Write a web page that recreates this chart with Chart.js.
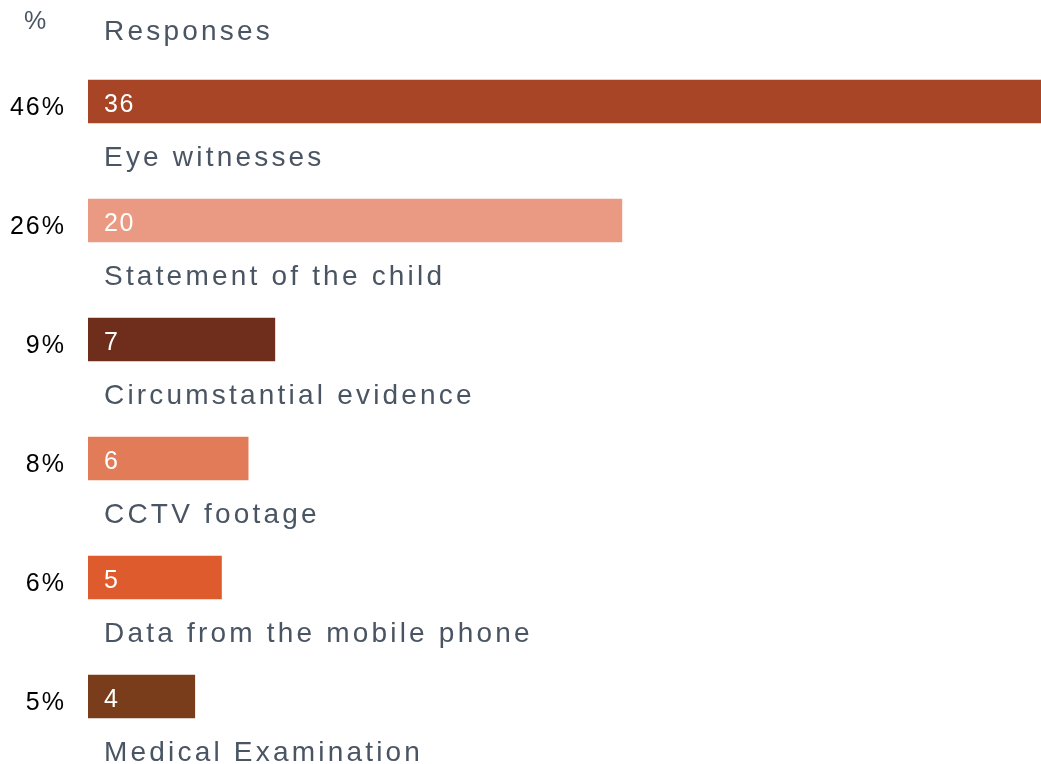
<!DOCTYPE html>
<html>
<head>
<meta charset="utf-8">
<script src="https://cdn.jsdelivr.net/npm/chart.js@4/dist/chart.umd.min.js"></script>
<style>
  html, body { margin: 0; padding: 0; background: #fff; overflow: hidden; }
  #wrap { width: 1041px; height: 764px; overflow: hidden; }
  #wrap div { width: 1050px; height: 764px; }
</style>
</head>
<body>
<div id="wrap"><div><canvas id="myChart"></canvas></div></div>
<script>
var categories = ['Eye witnesses', 'Statement of the child', 'Circumstantial evidence',
                  'CCTV footage', 'Data from the mobile phone', 'Medical Examination'];
var responses = [36, 20, 7, 6, 5, 4];
var percents = ['46%', '26%', '9%', '8%', '6%', '5%'];
var barColors = ['#A84526', '#EA9A82', '#6F2E1B', '#E27B58', '#DE5B2E', '#7A3D1C'];

var textGrey = '#4A5564';
var font = '"Liberation Sans", Arial, sans-serif';

// labels around each bar: % on the left, count inside, category below
var barLabels = {
    id: 'barLabels',
    afterDatasetsDraw: function (chart) {
        var ctx = chart.ctx;
        var meta = chart.getDatasetMeta(0);
        ctx.save();

        ctx.textBaseline = 'alphabetic';
        ctx.fillStyle = textGrey;
        ctx.font = '25px ' + font;
        ctx.textAlign = 'left';
        ctx.fillText('%', 24, 29);
        ctx.font = '28px ' + font;
        ctx.letterSpacing = '3.2px';
        ctx.fillText('Responses', 104, 40);

        meta.data.forEach(function (bar, i) {
            var half = bar.height / 2;
            ctx.letterSpacing = '2px';
            ctx.font = '25px ' + font;
            ctx.textAlign = 'right';
            ctx.fillStyle = '#000';
            ctx.fillText(percents[i], 66, bar.y + 13);

            ctx.letterSpacing = '1.5px';
            ctx.textAlign = 'left';
            ctx.fillStyle = '#fff';
            ctx.fillText(String(responses[i]), 104, bar.y + 10);

            ctx.letterSpacing = '3.2px';
            ctx.font = '28px ' + font;
            ctx.fillStyle = textGrey;
            ctx.fillText(categories[i], 104, bar.y + half + 43);
        });
        ctx.restore();
    }
};

var ctxChart = document.getElementById('myChart').getContext('2d');
var chart = new Chart(ctxChart, {
    type: 'bar',
    data: {
        labels: categories,
        datasets: [{
            label: 'Responses',
            data: responses,
            backgroundColor: barColors,
            borderWidth: 0,
            barThickness: 43
        }]
    },
    options: {
        indexAxis: 'y',
        responsive: true,
        maintainAspectRatio: false,
        animation: false,
        layout: { padding: { left: 88, right: 1, top: 42, bottom: 8 } },
        plugins: {
            legend: { display: false },
            tooltip: { enabled: false }
        },
        scales: {
            x: { display: false, min: 0, max: 36 },
            y: { display: false }
        }
    },
    plugins: [barLabels]
});
</script>
</body>
</html>
